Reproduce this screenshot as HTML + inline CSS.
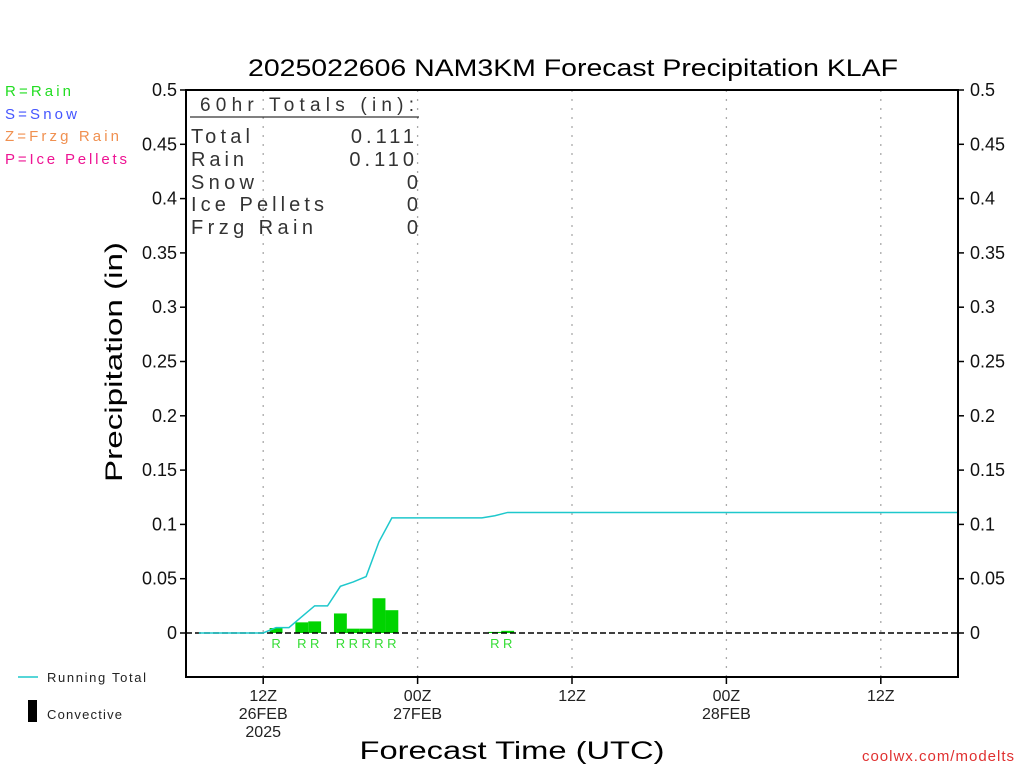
<!DOCTYPE html>
<html><head><meta charset="utf-8"><style>
body{margin:0;background:#fff}
svg{display:block;font-family:"Liberation Sans",sans-serif}
</style></head><body>
<svg id="chart" width="1024" height="768" viewBox="0 0 1024 768" xmlns="http://www.w3.org/2000/svg">
<rect width="1024" height="768" fill="#fff"/>
<text x="573" y="76" text-anchor="middle" font-size="24" textLength="650" lengthAdjust="spacingAndGlyphs">2025022606 NAM3KM Forecast Precipitation KLAF</text>
<g id="grid"></g>
<g id="bars"></g>
<g id="labels"></g>
<line x1="186" y1="633" x2="958" y2="633" stroke="#000" stroke-width="1.5" stroke-dasharray="6,3"/>
<polyline id="total" fill="none" stroke="#1ec8cc" stroke-width="1.5"/>
<rect x="186" y="90" width="772" height="587" fill="none" stroke="#000" stroke-width="2"/>
<g id="yticks"></g>
<g id="xticks"></g>
<g font-size="20" fill="#333">
<text x="307" y="111" text-anchor="middle" font-size="19" textLength="214" lengthAdjust="spacing">60hr Totals (in):</text>
<line x1="190" y1="117" x2="419" y2="117" stroke="#000" stroke-width="1"/>
<text x="191" y="143" textLength="59" lengthAdjust="spacing">Total</text><text x="418" y="143" text-anchor="end" letter-spacing="4">0.111</text>
<text x="191" y="166" textLength="53" lengthAdjust="spacing">Rain</text><text x="418" y="166" text-anchor="end" letter-spacing="4">0.110</text>
<text x="191" y="189" textLength="63" lengthAdjust="spacing">Snow</text><text x="418" y="189" text-anchor="end">0</text>
<text x="191" y="211" textLength="133" lengthAdjust="spacing">Ice Pellets</text><text x="418" y="211" text-anchor="end">0</text>
<text x="191" y="234" textLength="122" lengthAdjust="spacing">Frzg Rain</text><text x="418" y="234" text-anchor="end">0</text>
</g>
<g font-size="15">
<text x="5" y="96" fill="#22dd22" textLength="66" lengthAdjust="spacing">R=Rain</text>
<text x="5" y="119" fill="#4455ff" textLength="72" lengthAdjust="spacing">S=Snow</text>
<text x="5" y="141" fill="#f09050" textLength="114" lengthAdjust="spacing">Z=Frzg Rain</text>
<text x="5" y="164" fill="#ee1493" textLength="122" lengthAdjust="spacing">P=Ice Pellets</text>
</g>
<g font-size="13" fill="#222">
<line x1="18" y1="677" x2="38" y2="677" stroke="#1ec8cc" stroke-width="1.5"/>
<text x="47" y="682" textLength="99" lengthAdjust="spacing">Running Total</text>
<rect x="28" y="700" width="9" height="22" fill="#000"/>
<text x="47" y="719" textLength="75" lengthAdjust="spacing">Convective</text>
</g>
<text transform="translate(122,362) rotate(-90)" text-anchor="middle" font-size="24" textLength="240" lengthAdjust="spacingAndGlyphs">Precipitation (in)</text>
<text x="512" y="759" text-anchor="middle" font-size="25" textLength="305" lengthAdjust="spacingAndGlyphs">Forecast Time (UTC)</text>
<text x="1015" y="761" text-anchor="end" font-size="15" fill="#e03030" letter-spacing="1">coolwx.com/modelts</text>
</svg>
<script>
const barHours=[7,9,10,12,13,14,15,16,24,25];
const barValues=[0.0046,0.0098,0.0107,0.018,0.004,0.004,0.032,0.021,0.001,0.002];
const totalHours=[1,6,7,8,9,10,11,12,13,14,15,16,23,24,25,60];
const totalValues=[0,0,0.005,0.005,0.015,0.025,0.025,0.043,0.047,0.052,0.084,0.106,0.106,0.108,0.111,0.111];
const yTicks=[0,0.05,0.1,0.15,0.2,0.25,0.3,0.35,0.4,0.45,0.5];
const yTickLabels=["0","0.05","0.1","0.15","0.2","0.25","0.3","0.35","0.4","0.45","0.5"];
const xTickHours=[6,18,30,42,54];
const xTickLabels=[["12Z","26FEB","2025"],["00Z","27FEB"],["12Z"],["00Z","28FEB"],["12Z"]];
const NS="http://www.w3.org/2000/svg";
const X=h=>186+h*772/60;
const Y=v=>633-v*1086;
function mk(tag,attrs,parent,txt){const e=document.createElementNS(NS,tag);for(const k in attrs)e.setAttribute(k,attrs[k]);if(txt!==undefined)e.textContent=txt;parent.appendChild(e);return e;}
const grid=document.getElementById('grid'),bars=document.getElementById('bars'),labels=document.getElementById('labels'),yt=document.getElementById('yticks'),xt=document.getElementById('xticks');
xTickHours.forEach((h,i)=>{
 const g=mk('line',{x1:X(h),y1:90,x2:X(h),y2:677,stroke:'#aaa','stroke-width':1.3,'stroke-dasharray':'2,7'},grid);
 
 
 const t=mk('line',{x1:X(h),y1:677,x2:X(h),y2:684,stroke:'#000','stroke-width':1.5},xt);
 
 
 xTickLabels[i].forEach((s,j)=>{
  const l=mk('text',{x:X(h),y:701+j*18,'text-anchor':'middle','font-size':16,fill:'#222'},xt,s);
  
  
 });
});
barHours.forEach((h,i)=>{
 const w=772/60;
 const r=mk('rect',{x:X(h)-w/2,y:Y(barValues[i]),width:w,height:633-Y(barValues[i]),fill:'#00d400'},bars);
 
 
 const l=mk('text',{x:X(h),y:648,'text-anchor':'middle','font-size':13,fill:'#33dd33'},labels,'R');
 
 
});
document.getElementById('total').setAttribute('points',totalHours.map((h,i)=>X(h)+','+Y(totalValues[i])).join(' '));
yTicks.forEach((v,i)=>{
 const a=mk('line',{x1:180,y1:Y(v),x2:186,y2:Y(v),stroke:'#000','stroke-width':1.5},yt);
 
 
 const b=mk('line',{x1:958,y1:Y(v),x2:964,y2:Y(v),stroke:'#000','stroke-width':1.5},yt);
 
 
 const l=mk('text',{x:177,y:Y(v)+6,'text-anchor':'end','font-size':18,fill:'#111'},yt,yTickLabels[i]);
 
 
 const r=mk('text',{x:970,y:Y(v)+6,'font-size':18,fill:'#111'},yt,yTickLabels[i]);
 
 
});
</script>
</body></html>
